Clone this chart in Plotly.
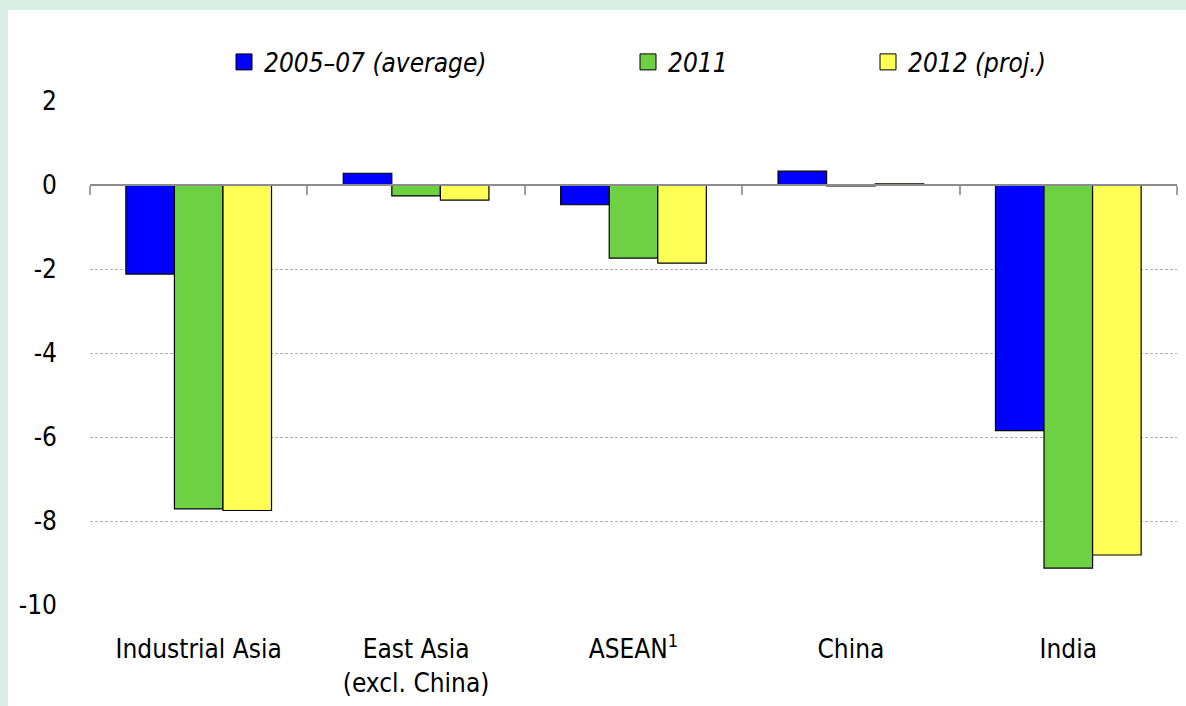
import plotly.graph_objects as go

categories = ["Industrial Asia", "East Asia<br>(excl. China)", "ASEAN<sup>1</sup>", "China", "India"]
series_names = ["2005\u201307 (average)", "2011", "2012 (proj.)"]
avg_2005_07 = [-2.12, 0.28, -0.47, 0.33, -5.85]
y2011 = [-7.71, -0.26, -1.74, -0.02, -9.12]
y2012 = [-7.75, -0.36, -1.86, 0.03, -8.81]
colors = ["#0000ff", "#6dd143", "#ffff55"]
yticks = [2, 0, -2, -4, -6, -8, -10]
ytick_labels = ["2", "0", "-2", "-4", "-6", "-8", "-10"]

FONT = "DejaVu Sans Condensed, Liberation Sans Narrow, sans-serif"
W, H = 1186, 706
L, R, T, B = 90, 9, 101, 101
pw, ph = W - L - R, H - T - B

def px_x(p):
    return (p - L) / pw

def px_y(p):
    return (H - B - p) / ph

fig = go.Figure()
for vals, col in zip([avg_2005_07, y2011, y2012], colors):
    fig.add_trace(go.Bar(x=categories, y=vals, marker=dict(color=col, line=dict(color="#000000", width=1.2)),
                         showlegend=False, hoverinfo="skip"))

legend_x = [264, 668, 908]
for i, (name, col) in enumerate(zip(series_names, colors)):
    lg = "legend" if i == 0 else f"legend{i+1}"
    fig.add_trace(go.Scatter(x=[None], y=[None], mode="markers", name=name,
                             marker=dict(symbol="square", size=20, color=col, line=dict(color="#000000", width=1)),
                             legend=lg, showlegend=True, hoverinfo="skip"))

# helper trace for the zero-line axis with category boundary ticks
fig.add_trace(go.Scatter(x=[None], y=[None], xaxis="x2", showlegend=False, hoverinfo="skip"))

layout_legends = {}
for i, lx in enumerate(legend_x):
    key = "legend" if i == 0 else f"legend{i+1}"
    layout_legends[key] = dict(orientation="h", yanchor="middle", xanchor="left", bgcolor="rgba(0,0,0,0)",
                               font=dict(family=FONT, size=26, color="#000000", style="italic"),
                               itemwidth=30, x=px_x(lx - 40), y=px_y(62))

fig.update_layout(
    width=W, height=H,
    margin=dict(l=L, r=R, t=T, b=B, pad=0, autoexpand=False),
    paper_bgcolor="#d9efe6",
    plot_bgcolor="#ffffff",
    barmode="group", bargap=0.33, bargroupgap=0,
    font=dict(family=FONT, size=26, color="#000000"),
    xaxis=dict(type="category", categoryorder="array", categoryarray=categories,
               showgrid=False, showline=False, zeroline=False, ticks="", ticklabelstandoff=26,
               tickfont=dict(family=FONT, size=26), range=[-0.5, 4.5]),
    xaxis2=dict(overlaying="x", anchor="free", position=10/12, range=[-0.5, 4.5],
                tickvals=[-0.5, 0.5, 1.5, 2.5, 3.5, 4.5], ticks="outside", ticklen=9, tickwidth=2,
                tickcolor="#a0a0a0", showticklabels=False, showline=True, linecolor="#8c8c8c", linewidth=2,
                showgrid=False, zeroline=False, side="bottom"),
    yaxis=dict(range=[-10, 2], tickvals=yticks, ticktext=ytick_labels, showgrid=True, gridcolor="#b0b0b0",
               griddash="3px,2px", gridwidth=1, zeroline=False, showline=False, ticks="", ticklabelstandoff=32,
               tickfont=dict(family=FONT, size=26)),
    shapes=[dict(type="rect", xref="paper", yref="paper", x0=px_x(8), x1=px_x(W + 5), y0=px_y(H + 5), y1=px_y(10),
                 fillcolor="#ffffff", line=dict(width=0), layer="below")],
    **layout_legends,
)

fig.write_html("out.html", config={"displayModeBar": False},
               post_script="document.body.style.margin='0';document.body.style.overflow='hidden';")
